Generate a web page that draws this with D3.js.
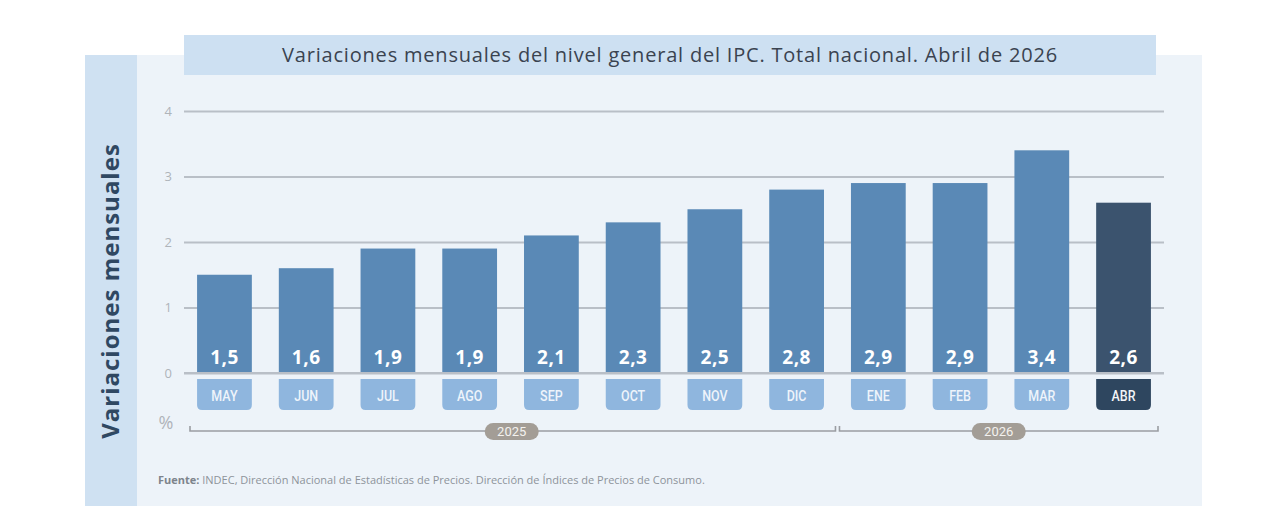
<!DOCTYPE html>
<html>
<head>
    <meta charset="utf-8">
    <title>Variaciones mensuales del IPC</title>
    <script src="https://cdn.jsdelivr.net/npm/d3@7"></script>
    <style>
        body { margin: 0; background: #fff; }
        svg { display: block; }
    </style>
</head>
<body>
    <svg id="chart" width="1280" height="506"></svg>
    <script>
        // data
        const months = ["MAY", "JUN", "JUL", "AGO", "SEP", "OCT", "NOV", "DIC", "ENE", "FEB", "MAR", "ABR"];
        const values = [1.5, 1.6, 1.9, 1.9, 2.1, 2.3, 2.5, 2.8, 2.9, 2.9, 3.4, 2.6];
        const yTicks = [0, 1, 2, 3, 4];
        const years = [
            {label: "2025", from: "MAY", to: "DIC"},
            {label: "2026", from: "ENE", to: "ABR"}
        ];
        const titleText = "Variaciones mensuales del nivel general del IPC. Total nacional. Abril de 2026";
        const yLabel = "Variaciones mensuales";

        const svg = d3.select("#chart");
        const font = "'Open Sans', 'Noto Sans', sans-serif";

        // background panels
        svg.append("rect").attr("x", 85).attr("y", 55).attr("width", 1117).attr("height", 451).attr("fill", "#edf3f9");
        svg.append("rect").attr("x", 85).attr("y", 55).attr("width", 52).attr("height", 451).attr("fill", "#cfe1f2");

        // title box
        svg.append("rect").attr("x", 184).attr("y", 35).attr("width", 972).attr("height", 40).attr("fill", "#cde0f2");
        svg.append("text")
            .attr("x", 670).attr("y", 62)
            .attr("text-anchor", "middle")
            .attr("font-family", font)
            .attr("font-size", 20)
            .attr("letter-spacing", 0.8)
            .attr("fill", "#3a4350")
            .text(titleText);

        // vertical label
        svg.append("text")
            .attr("transform", "translate(119,291) rotate(-90)")
            .attr("text-anchor", "middle")
            .attr("font-family", font)
            .attr("font-weight", "bold")
            .attr("font-size", 24)
            .attr("letter-spacing", 1)
            .attr("fill", "#2f4862")
            .text(yLabel);

        const x = d3.scaleBand()
            .domain(months)
            .range([184, 1164])
            .paddingInner(0.33)
            .paddingOuter(0.16);

        const y = d3.scaleLinear()
            .domain([0, 4])
            .range([373, 111]);

        // grid
        const yAxis = d3.axisLeft(y)
            .tickValues(yTicks)
            .tickSize(-(1164 - 184))
            .tickPadding(12)
            .tickFormat(d3.format("d"));

        const g = svg.append("g")
            .attr("transform", "translate(184,0)")
            .call(yAxis);
        g.select(".domain").remove();
        g.selectAll(".tick line").attr("stroke", "#b9bfc7").attr("stroke-width", 2);
        g.selectAll(".tick text")
            .attr("font-family", font)
            .attr("font-size", 13)
            .attr("fill", "#afb4ba");

        const last = months[months.length - 1];
        const barColor = d => d === last ? "#3b536e" : "#5a89b6";

        // bars
        svg.selectAll(".bar")
            .data(months)
            .join("rect")
            .attr("class", "bar")
            .attr("x", d => x(d))
            .attr("width", x.bandwidth())
            .attr("y", (d, i) => y(values[i]))
            .attr("height", (d, i) => y(0) - y(values[i]))
            .attr("fill", barColor);

        // zero line drawn over bars
        svg.append("line")
            .attr("x1", 184).attr("x2", 1164)
            .attr("y1", y(0)).attr("y2", y(0))
            .attr("stroke", "#b9bfc7").attr("stroke-width", 2);

        // value labels
        svg.selectAll(".val")
            .data(months)
            .join("text")
            .attr("class", "val")
            .attr("x", d => x(d) + x.bandwidth() / 2)
            .attr("y", 364)
            .attr("text-anchor", "middle")
            .attr("font-family", font)
            .attr("font-weight", "bold")
            .attr("font-size", 19)
            .attr("letter-spacing", 0.5)
            .attr("fill", "#ffffff")
            .text((d, i) => d3.format(".1f")(values[i]).replace(".", ","));

        // month tabs with rounded bottom corners
        const tabH = 31, tabTop = 379, r = 5;
        function tabPath(x0, w) {
            return `M${x0},${tabTop} h${w} v${tabH - r} q0,${r} ${-r},${r} h${-(w - 2 * r)} q${-r},0 ${-r},${-r} Z`;
        }
        svg.selectAll(".tab")
            .data(months)
            .join("path")
            .attr("class", "tab")
            .attr("d", d => tabPath(x(d), x.bandwidth()))
            .attr("fill", d => d === last ? "#2e465f" : "#8fb6de");

        svg.selectAll(".mon")
            .data(months)
            .join("text")
            .attr("class", "mon")
            .attr("x", d => x(d) + x.bandwidth() / 2)
            .attr("y", 401)
            .attr("text-anchor", "middle")
            .attr("font-family", "'Roboto', sans-serif")
            .attr("font-weight", 500)
            .attr("font-size", 14.5)
            .attr("fill", d => d === last ? "#f2f5f8" : "#eef4fb")
            .attr("transform", d => `translate(${x(d) + x.bandwidth() / 2},0) scale(0.86,1) translate(${-(x(d) + x.bandwidth() / 2)},0)`)
            .text(d => d);

        // percent sign
        svg.append("text")
            .attr("x", 166).attr("y", 429)
            .attr("text-anchor", "middle")
            .attr("font-family", font)
            .attr("font-size", 18)
            .attr("fill", "#b0b4ba")
            .text("%");

        // year brackets
        const step = x.step();
        const bY = 431;
        years.forEach((yr, i) => {
            const x0 = i === 0 ? 190 : x(yr.from) - x.paddingInner() * step / 2 + 2;
            const x1 = i === years.length - 1 ? 1158 : x(yr.to) + x.bandwidth() + x.paddingInner() * step / 2 - 2;
            svg.append("path")
                .attr("d", `M${x0},${bY - 5} V${bY} H${x1} V${bY - 5}`)
                .attr("fill", "none")
                .attr("stroke", "#9a9da2")
                .attr("stroke-width", 1.6);
            const cx = (x0 + x1) / 2 + (i === 0 ? -1 : 0);
            svg.append("rect")
                .attr("x", cx - 27).attr("y", bY - 8)
                .attr("width", 54).attr("height", 17)
                .attr("rx", 8.5)
                .attr("fill", "#a39d96");
            svg.append("text")
                .attr("x", cx).attr("y", bY + 5)
                .attr("text-anchor", "middle")
                .attr("font-family", "'Roboto', sans-serif")
                .attr("font-size", 13)
                .attr("fill", "#f4f2ef")
                .text(yr.label);
        });

        // source
        const src = svg.append("text")
            .attr("x", 158).attr("y", 484)
            .attr("font-family", font)
            .attr("font-size", 11)
            .attr("fill", "#8d949b");
        src.append("tspan").attr("font-weight", "bold").attr("fill", "#7d848c").text("Fuente:");
        src.append("tspan").text(" INDEC, Dirección Nacional de Estadísticas de Precios. Dirección de Índices de Precios de Consumo.");
    </script>
</body>
</html>
